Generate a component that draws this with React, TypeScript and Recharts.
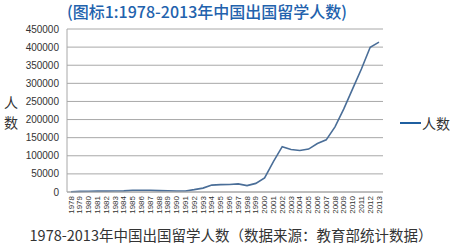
import { LineChart, Line, XAxis, YAxis, CartesianGrid } from "recharts";

const years = [
  "1978", "1979", "1980", "1981", "1982", "1983", "1984", "1985", "1986", "1987",
  "1988", "1989", "1990", "1991", "1992", "1993", "1994", "1995", "1996", "1997",
  "1998", "1999", "2000", "2001", "2002", "2003", "2004", "2005", "2006", "2007",
  "2008", "2009", "2010", "2011", "2012", "2013",
];
const students = [
  860, 1777, 2124, 2922, 2326, 2633, 3073, 4888, 4676, 4703,
  3786, 3329, 2950, 2900, 6540, 10742, 19071, 20381, 20905, 22410,
  17622, 23749, 38989, 83973, 125179, 117307, 114682, 118515, 134000, 144000,
  179800, 229300, 284700, 339700, 399600, 413900,
];
const yTicks = [0, 50000, 100000, 150000, 200000, 250000, 300000, 350000, 400000, 450000];

const data = years.map((y, i) => ({ year: y, value: students[i] }));

const cjk = '"Noto Sans CJK SC", "Noto Sans", sans-serif';

export default function App() {
  return (
    <div style={{ position: "absolute", left: 0, top: 0, width: 457, height: 247, background: "#fff", fontFamily: cjk }}>
      <div
        style={{
          position: "absolute", left: 0, top: 1, width: 414, textAlign: "center",
          fontSize: 16, fontWeight: 500, color: "#2262ad", lineHeight: "20px",
        }}
      >
        (图标1:1978-2013年中国出国留学人数)
      </div>
      <div style={{ position: "absolute", left: 4, top: 92, width: 17, fontSize: 14, lineHeight: "20px", color: "#333" }}>
        <div>人</div>
        <div>数</div>
      </div>
      <div style={{ position: "absolute", left: 400, top: 113, display: "flex", alignItems: "center", fontSize: 14, color: "#333" }}>
        <span style={{ display: "inline-block", width: 21, height: 2, background: "#1f5fa0", marginRight: 1 }} />
        人数
      </div>
      <div
        style={{
          position: "absolute", left: 0, top: 226, width: 462, textAlign: "center",
          fontSize: 14.5, color: "#333", lineHeight: "18px", whiteSpace: "nowrap",
        }}
      >
        1978-2013年中国出国留学人数（数据来源：教育部统计数据）
      </div>
      <div style={{ position: "absolute", left: 0, top: 0 }}>
        <LineChart width={457} height={247} data={data} margin={{ top: 29, right: 74, bottom: 25, left: 0 }}>
          <CartesianGrid vertical={false} stroke="#a8a8a8" />
          <XAxis
            dataKey="year"
            height={30}
            interval={0}
            padding={{ left: 4, right: 4 }}
            tickLine={false}
            axisLine={{ stroke: "#a8a8a8" }}
            angle={-90}
            textAnchor="end"
            dy={-4}
            dx={-3}
            tick={{ fontSize: 8, fill: "#333", fontFamily: "Arial, sans-serif" }}
          />
          <YAxis
            width={67}
            domain={[0, 450000]}
            ticks={yTicks}
            interval={0}
            tickLine={false}
            axisLine={{ stroke: "#a8a8a8" }}
            tick={{ fontSize: 10, fill: "#333", fontFamily: "Arial, sans-serif" }}
          />
          <Line
            type="linear"
            dataKey="value"
            stroke="#4a6e98"
            strokeWidth={1.6}
            dot={false}
            isAnimationActive={false}
          />
        </LineChart>
      </div>
    </div>
  );
}
